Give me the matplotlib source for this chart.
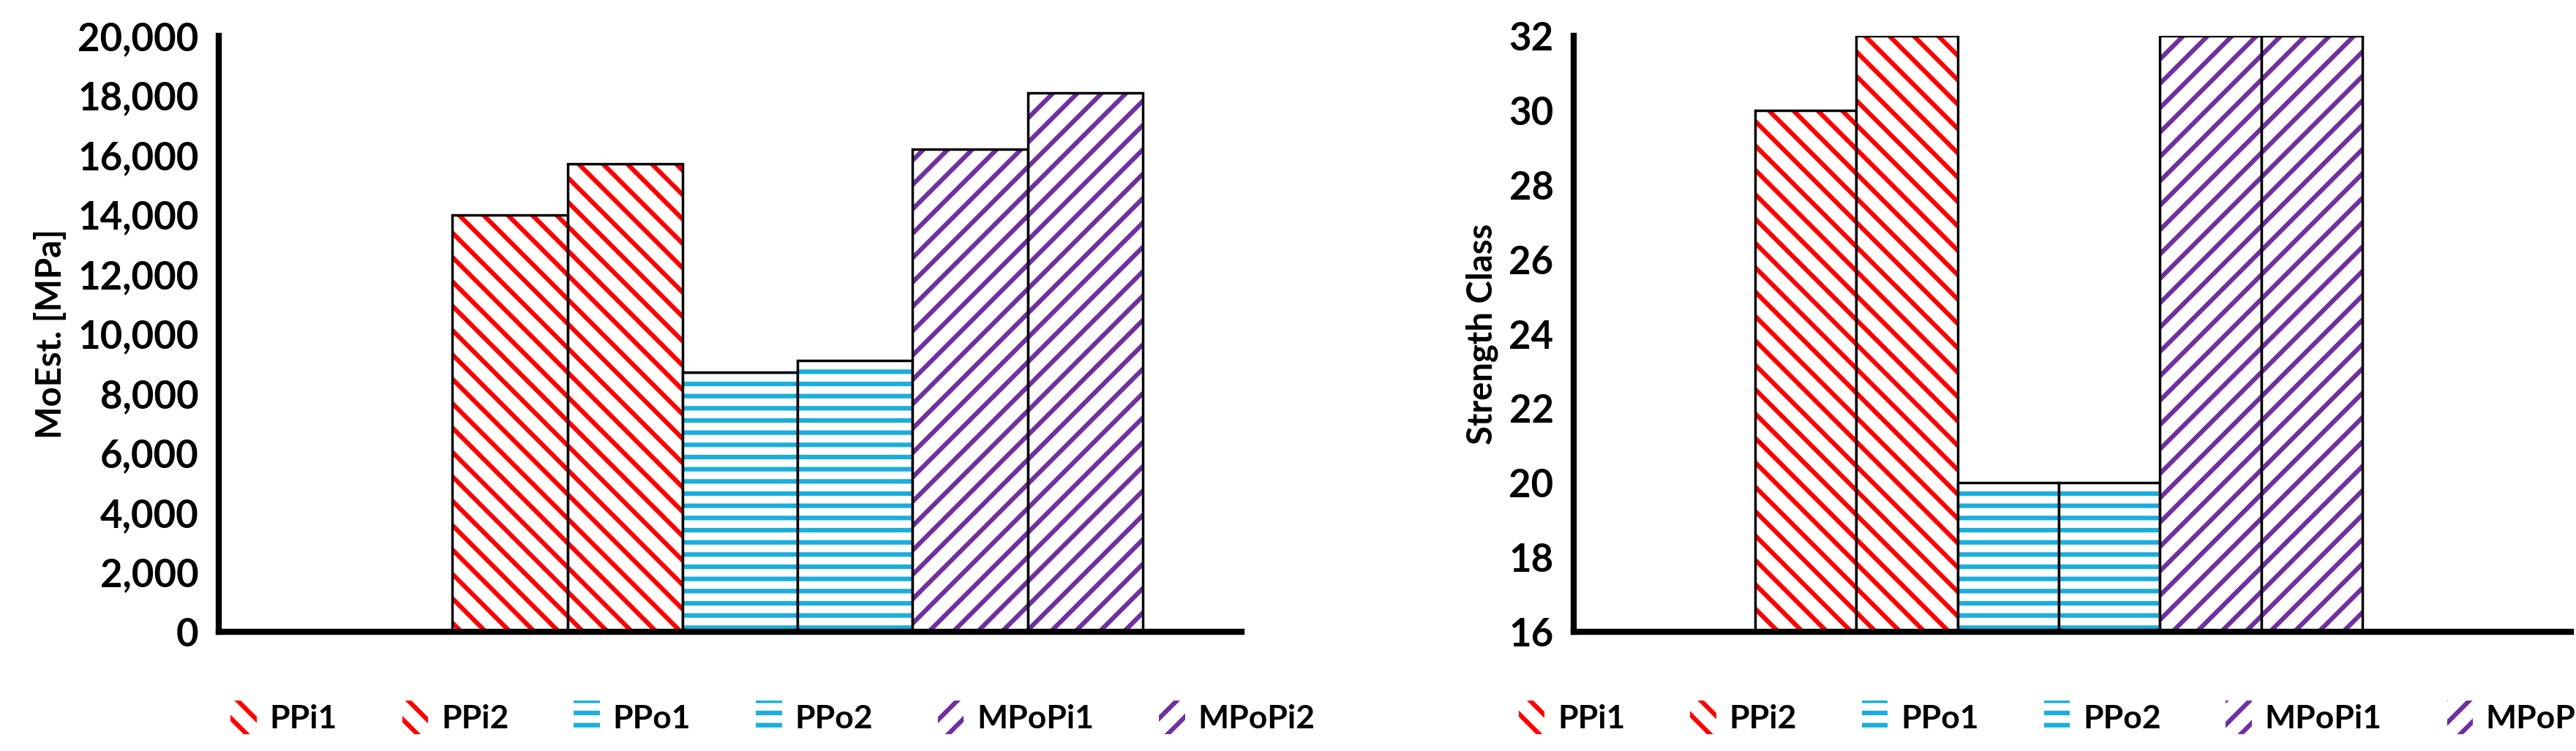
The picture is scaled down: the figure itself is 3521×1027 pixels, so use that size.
import matplotlib
matplotlib.use("Agg")
import matplotlib.pyplot as plt
from matplotlib.patches import Patch
from matplotlib.ticker import FuncFormatter

labels = ["PPi1", "PPi2", "PPo1", "PPo2", "MPoPi1", "MPoPi2"]
moe = [14000, 15700, 8700, 9100, 16200, 18100]
strength = [30, 32, 20, 20, 32, 32]
colors = ["#FF0000", "#FF0000", "#1AAEDD", "#1AAEDD", "#7030A0", "#7030A0"]
hatches = ["\\", "\\", "-", "-", "/", "/"]

plt.rcParams['font.family'] = ['Lato', 'DejaVu Sans']
plt.rcParams['font.weight'] = 'bold'
plt.rcParams['hatch.linewidth'] = 4.5

fig = plt.figure(figsize=(35.21, 10.27), dpi=100)
ax1 = fig.add_axes([0.085, 0.159, 0.397, 0.793])
ax2 = fig.add_axes([0.611, 0.159, 0.387, 0.793])

def draw(ax, vals, base, x0, xmax, ylim, ticks, fmt, ylabel):
    xs = [x0 + i + 0.5 for i in range(len(vals))]
    heights = [v - base for v in vals]
    for x, h, c, ht in zip(xs, heights, colors, hatches):
        ax.bar(x, h, width=1, bottom=base, color="white", edgecolor=c, hatch=ht, linewidth=0)
        ax.bar(x, h, width=1, bottom=base, fill=False, edgecolor="black", linewidth=2.5)
    ax.set_xlim(0, xmax)
    ax.set_ylim(*ylim)
    ax.set_yticks(ticks)
    ax.yaxis.set_major_formatter(FuncFormatter(fmt))
    ax.set_xticks([])
    for s in ["top", "right"]:
        ax.spines[s].set_visible(False)
    for s in ["left", "bottom"]:
        ax.spines[s].set_linewidth(6)
    ax.tick_params(axis='y', length=0, labelsize=38, pad=20)
    ax.set_ylabel(ylabel, fontsize=34, fontweight='bold', labelpad=10)

draw(ax1, moe, 0, 2.03, 8.89, (0, 20000), range(0, 20001, 2000),
     lambda v, p: f"{int(v):,}", "MoEst. [MPa]")
draw(ax2, strength, 16, 1.79, 9.85, (16, 32), range(16, 33, 2),
     lambda v, p: f"{int(v)}", "Strength Class")

handles = [Patch(facecolor="white", edgecolor=c, hatch=h, label=l, linewidth=0)
           for c, h, l in zip(colors, hatches, labels)]
for cx in (0.30, 0.80):
    fig.legend(handles=handles, loc="center", bbox_to_anchor=(cx, 0.045), ncol=6,
               frameon=False, fontsize=32, handlelength=0.8, handleheight=1.2,
               columnspacing=2.0, handletextpad=0.4)

fig.savefig("out.png", dpi=100)
